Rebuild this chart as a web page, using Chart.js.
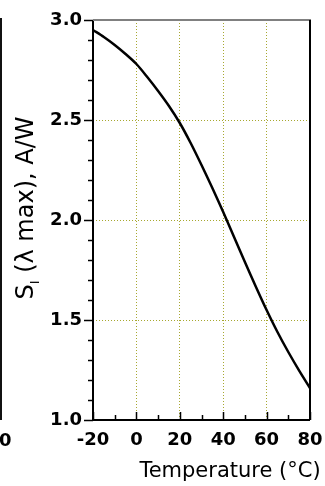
<!DOCTYPE html>
<html>
<head>
<meta charset="utf-8">
<script src="https://cdn.jsdelivr.net/npm/chart.js@4"></script>
<style>
html, body { margin: 0; padding: 0; background: #fff; }
#wrap { position: relative; width: 325px; height: 486px; overflow: hidden; }
#edgeLine { position: absolute; left: 0; top: 18px; width: 2px; height: 402px; background: #111; }
#edgeLabel { position: absolute; left: -1px; top: 429px; font: bold 18px 'DejaVu Sans'; color: #000; }
</style>
</head>
<body>
<div id="wrap">
  <canvas id="respChart" width="325" height="486"></canvas>
  <div id="edgeLine"></div>
  <div id="edgeLabel">0</div>
</div>
<script>
// Peak responsivity vs temperature
const temps = [-20, -15, -10, -5, 0, 5, 10, 15, 20, 25, 30, 35, 40, 45, 50, 55, 60, 65, 70, 75, 80];
const responsivity = [2.95, 2.915, 2.875, 2.83, 2.78, 2.715, 2.645, 2.57, 2.485, 2.385, 2.275, 2.16, 2.04, 1.915, 1.79, 1.668, 1.55, 1.44, 1.34, 1.247, 1.16];

const xTickLabels = [-20, 0, 20, 40, 60, 80];
const yTickLabels = [1.0, 1.5, 2.0, 2.5, 3.0];
const xGridAt = [0, 20, 40, 60];
const yGridAt = [1.5, 2.0, 2.5];

const gridColor = '#a8a830';
const near = (a, b) => Math.abs(a - b) < 1e-6;

// minor/major tick marks, top/right frame and the axis titles
const frame = {
    id: 'frame',
    afterDraw(chart) {
        const { ctx, chartArea: a, scales: { x, y } } = chart;
        ctx.save();
        ctx.strokeStyle = '#000';
        ctx.lineWidth = 1.5;
        ctx.beginPath();
        for (let v = -20; v <= 80; v += 10) {
            const px = Math.round(x.getPixelForValue(v)) + 0.5;
            const len = xTickLabels.includes(v) ? 8 : 5;
            ctx.moveTo(px, a.bottom);
            ctx.lineTo(px, a.bottom - len);
        }
        for (let i = 10; i <= 30; i++) {
            const py = Math.round(y.getPixelForValue(i / 10)) + 0.5;
            const len = i % 5 === 0 ? 9 : 5;
            ctx.moveTo(a.left, py);
            ctx.lineTo(a.left - len, py);
        }
        ctx.stroke();

        // axes solid, top edge grey, right edge black
        ctx.lineWidth = 2;
        ctx.beginPath();
        ctx.moveTo(a.left, a.top);
        ctx.lineTo(a.left, a.bottom);
        ctx.lineTo(a.right, a.bottom);
        ctx.stroke();
        ctx.strokeStyle = '#808080';
        ctx.beginPath();
        ctx.moveTo(a.left, a.top);
        ctx.lineTo(a.right + 1, a.top);
        ctx.stroke();
        ctx.strokeStyle = '#000';
        ctx.beginPath();
        ctx.moveTo(a.right, a.top);
        ctx.lineTo(a.right, a.bottom);
        ctx.stroke();

        // x title
        ctx.fillStyle = '#000';
        ctx.font = '21px "DejaVu Sans"';
        ctx.textAlign = 'center';
        ctx.textBaseline = 'alphabetic';
        ctx.fillText('Temperature (°C)', 230, 477);

        // y title with subscript, rotated
        ctx.translate(33, 208);
        ctx.rotate(-Math.PI / 2);
        ctx.textAlign = 'left';
        const big = '24px "DejaVu Sans"', small = '13px "DejaVu Sans"';
        ctx.font = big;
        const wS = ctx.measureText('S').width;
        const rest = ' (λ max), A/W';
        const wRest = ctx.measureText(rest).width;
        ctx.font = small;
        const wSub = ctx.measureText('I').width;
        let x0 = -(wS + wSub + wRest) / 2;
        ctx.font = big;
        ctx.fillText('S', x0, 0);
        ctx.font = small;
        ctx.fillText('I', x0 + wS, 6);
        ctx.font = big;
        ctx.fillText(rest, x0 + wS + wSub, 0);
        ctx.restore();
    }
};

new Chart(document.getElementById('respChart'), {
    type: 'line',
    data: {
        datasets: [{
            data: temps.map((t, i) => ({ x: t, y: responsivity[i] })),
            borderColor: '#000',
            borderWidth: 2.5,
            pointRadius: 0,
            tension: 0.3,
            fill: false
        }]
    },
    options: {
        responsive: false,
        animation: false,
        layout: { padding: { top: 20, right: 15, left: 0, bottom: 0 } },
        plugins: { legend: { display: false }, tooltip: { enabled: false } },
        scales: {
            x: {
                type: 'linear',
                min: -20,
                max: 80,
                afterFit: s => { s.height = 66; s.paddingLeft = 0; s.paddingRight = 0; },
                afterBuildTicks: s => { s.ticks = xTickLabels.map(v => ({ value: v })); },
                ticks: {
                    padding: 10,
                    color: '#000',
                    font: { family: 'DejaVu Sans', size: 18, weight: 'bold' },
                    maxRotation: 0,
                    callback: v => String(v)
                },
                grid: {
                    drawTicks: false,
                    lineWidth: 1,
                    color: c => xGridAt.some(g => near(g, c.tick.value)) ? gridColor : 'transparent'
                },
                border: { display: false, dash: [1, 2] }
            },
            y: {
                min: 1,
                max: 3,
                afterFit: s => { s.width = 93; s.paddingTop = 0; s.paddingBottom = 0; },
                afterBuildTicks: s => { s.ticks = yTickLabels.map(v => ({ value: v })); },
                ticks: {
                    padding: 11,
                    color: '#000',
                    font: { family: 'DejaVu Sans', size: 18, weight: 'bold' },
                    callback: v => Number(v).toFixed(1)
                },
                grid: {
                    drawTicks: false,
                    lineWidth: 1,
                    color: c => yGridAt.some(g => near(g, c.tick.value)) ? gridColor : 'transparent'
                },
                border: { display: false, dash: [1, 2] }
            }
        }
    },
    plugins: [frame]
});
</script>
</body>
</html>
